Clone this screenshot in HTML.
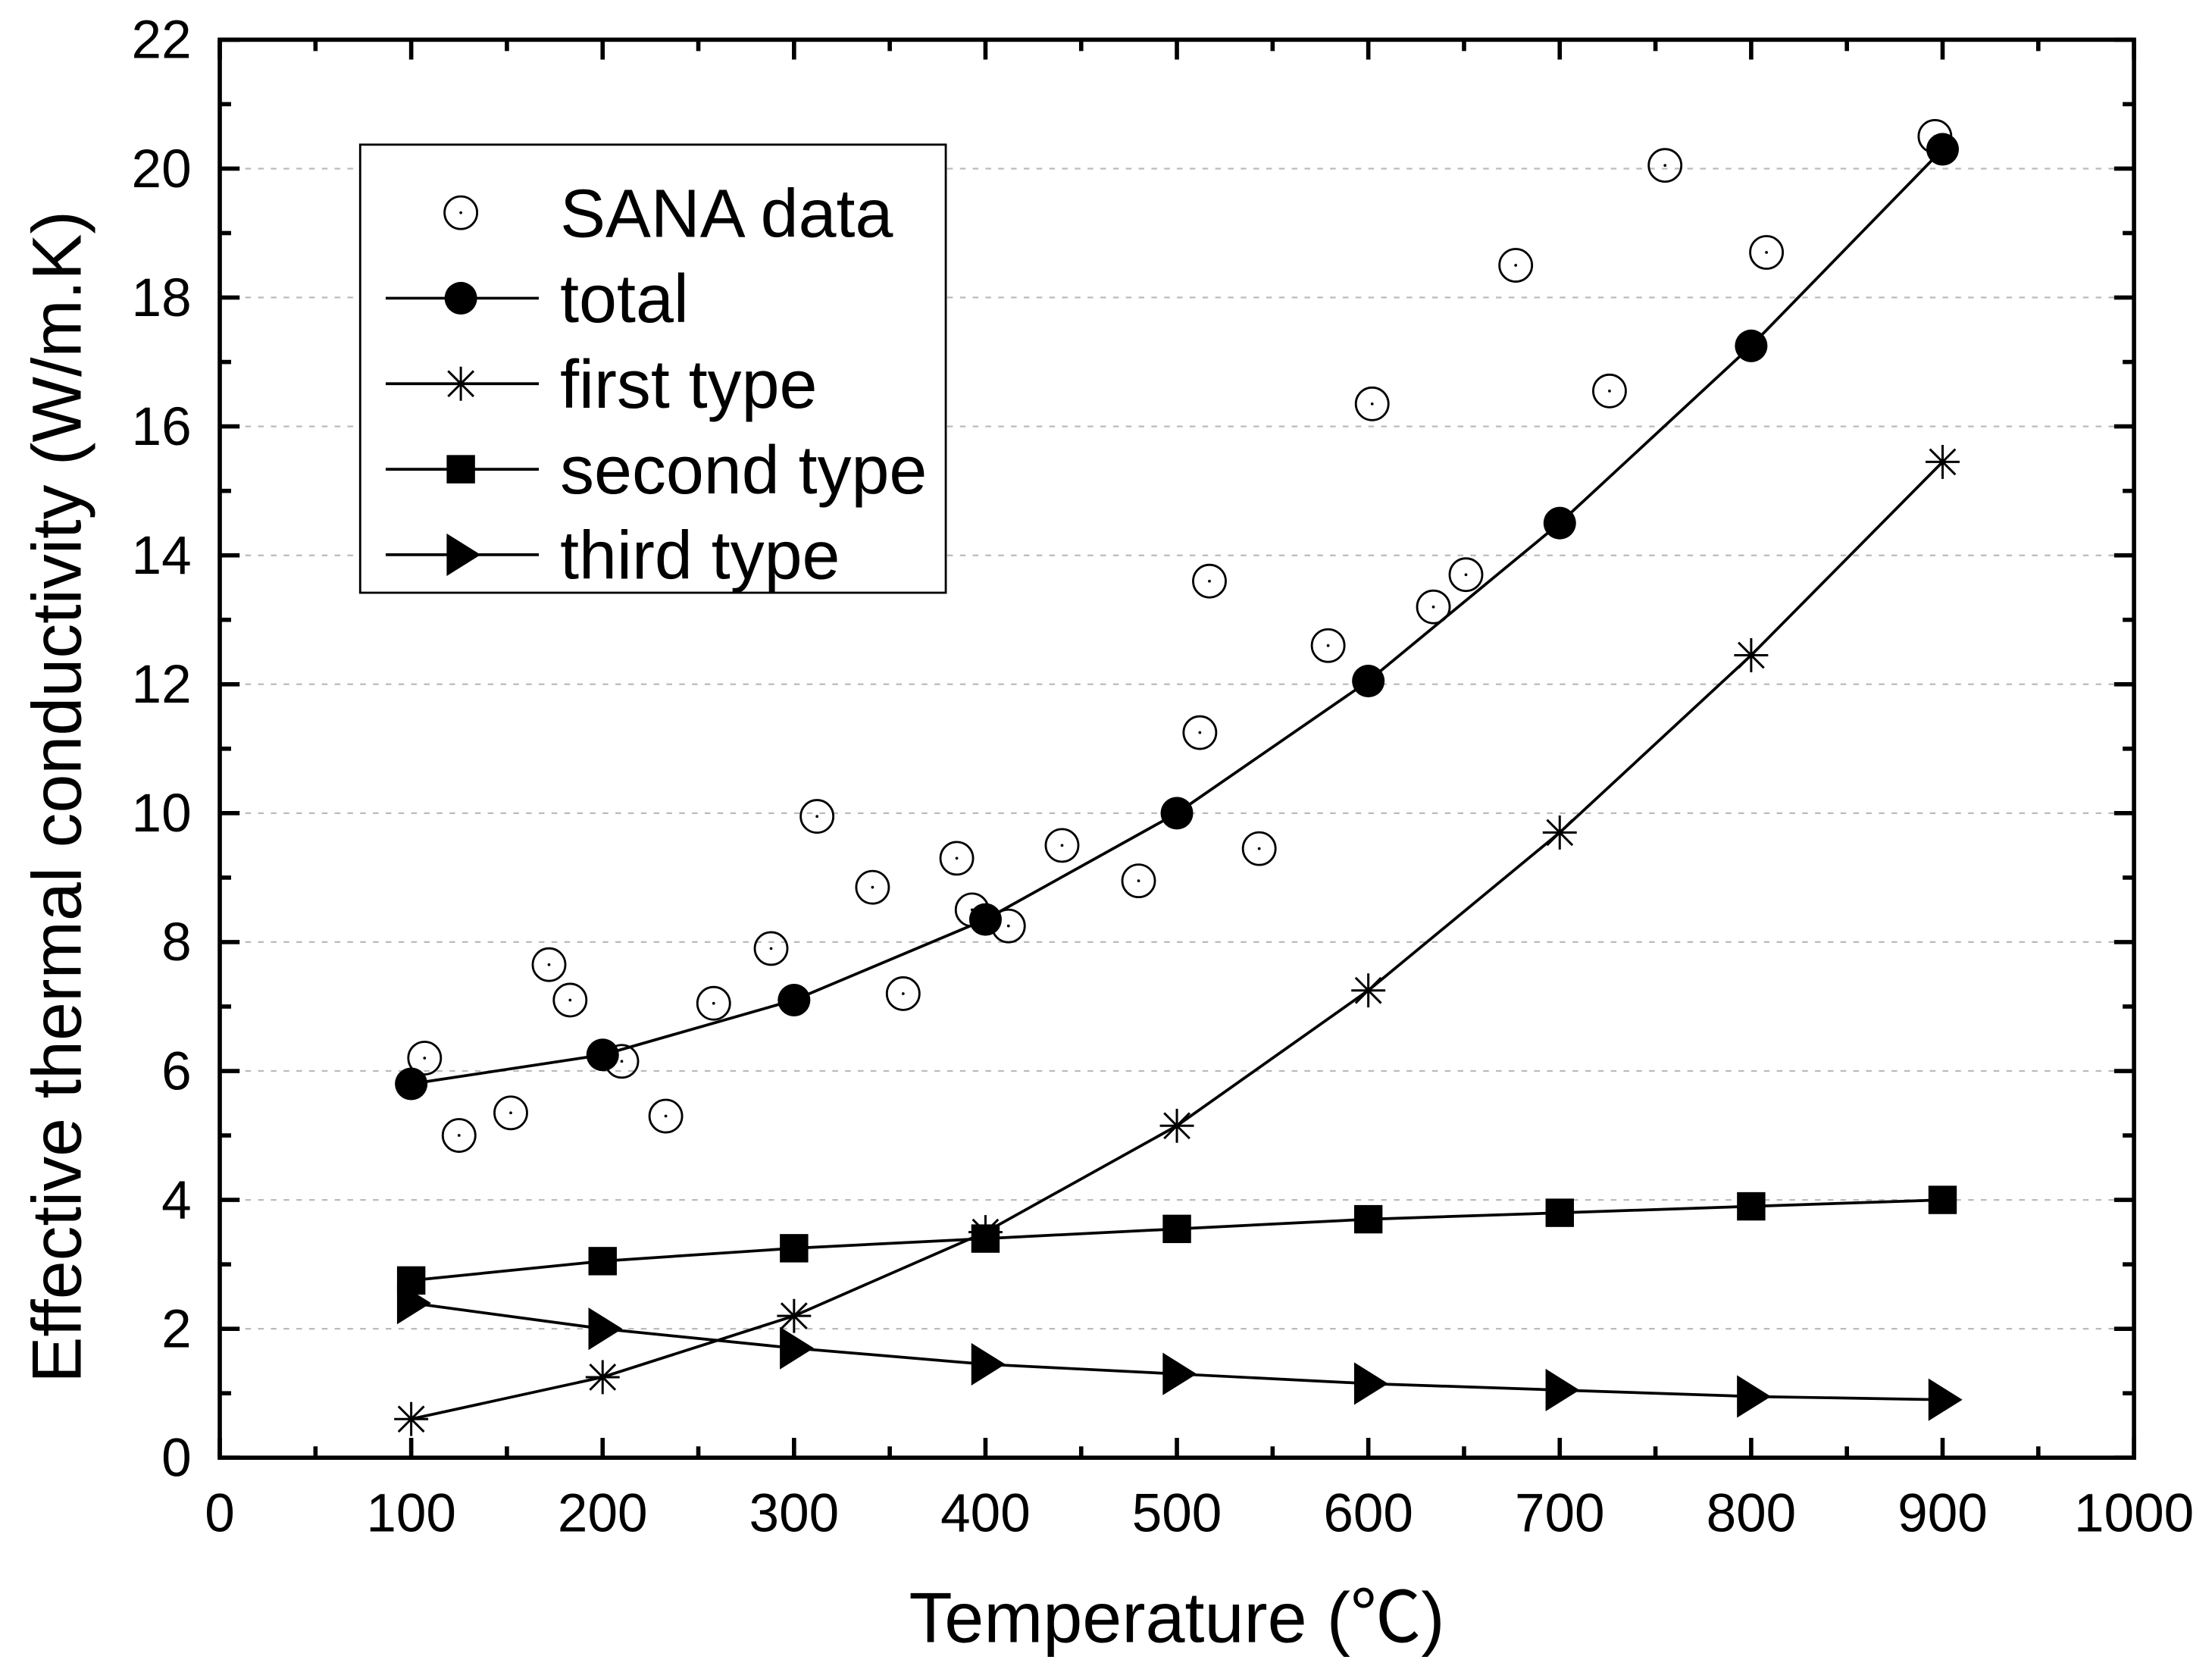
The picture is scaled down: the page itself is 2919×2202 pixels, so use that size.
<!DOCTYPE html>
<html><head><meta charset="utf-8"><style>
html,body{margin:0;padding:0;background:#fff;}
svg{display:block;}
text{font-family:"Liberation Sans","Noto Sans CJK SC",sans-serif;fill:#000;}
</style></head><body>
<svg id="chart" width="2919" height="2202" viewBox="0 0 1560 1177" preserveAspectRatio="none" xmlns="http://www.w3.org/2000/svg">
<g id="grid"></g>
<g id="axes"></g>
<g id="series"></g>
<g id="legend"></g>
</svg>
<script>
const temps = [100,200,300,400,500,600,700,800,900];
const totalVals = [5.8,6.25,7.1,8.35,10.0,12.05,14.5,17.25,20.3];
const firstVals = [0.6,1.25,2.2,3.5,5.15,7.25,9.7,12.45,15.45];
const secondVals = [2.75,3.05,3.25,3.4,3.55,3.7,3.8,3.9,4.0];
const thirdVals = [2.4,2.0,1.7,1.45,1.3,1.15,1.05,0.95,0.9];
const sanaX = [107,125,152,172,183,210,233,258,288,312,341,357,385,393,412,440,480,512,517,543,579,602,634,651,677,726,755,808,896];
const sanaY = [6.2,5.0,5.35,7.65,7.1,6.15,5.3,7.05,7.9,9.95,8.85,7.2,9.3,8.5,8.25,9.5,8.95,11.25,13.6,9.45,12.6,16.35,13.2,13.7,18.5,16.55,20.05,18.7,20.5];
const xTicks = [0,100,200,300,400,500,600,700,800,900,1000];
const yTicks = [0,2,4,6,8,10,12,14,16,18,20,22];

const L=155,R=1505,T=28,B=1028;
const sx=v=>L+(v-0)/(1000)*(R-L);
const sy=v=>B-(v/22)*(B-T);
const NS="http://www.w3.org/2000/svg";
function mk(tag,attrs,parent){const e=document.createElementNS(NS,tag);for(const k in attrs)e.setAttribute(k,attrs[k]);parent.appendChild(e);return e;}
const grid=document.getElementById('grid'),axes=document.getElementById('axes'),series=document.getElementById('series'),legend=document.getElementById('legend');

yTicks.forEach(v=>{if(v>0&&v<22){const g=mk('line',{x1:L,x2:R,y1:sy(v),y2:sy(v),stroke:'#bbb','stroke-width':1.2,'stroke-dasharray':'4,5'},grid);

}});

const frame=mk('rect',{x:L,y:T,width:R-L,height:B-T,fill:'none',stroke:'#000','stroke-width':3},axes);



xTicks.forEach(v=>{const x=sx(v);
mk('line',{x1:x,x2:x,y1:B,y2:B-14,stroke:'#000','stroke-width':3},axes);
mk('line',{x1:x,x2:x,y1:T,y2:T+14,stroke:'#000','stroke-width':3},axes);
if(v<1000){const m=sx(v+50);mk('line',{x1:m,x2:m,y1:B,y2:B-8,stroke:'#000','stroke-width':3},axes);mk('line',{x1:m,x2:m,y1:T,y2:T+8,stroke:'#000','stroke-width':3},axes);}
const t=mk('text',{x:x,y:B+52,'font-size':38,'text-anchor':'middle'},axes);t.textContent=v;

});

yTicks.forEach(v=>{const y=sy(v);
mk('line',{x1:L,x2:L+14,y1:y,y2:y,stroke:'#000','stroke-width':3},axes);
mk('line',{x1:R,x2:R-14,y1:y,y2:y,stroke:'#000','stroke-width':3},axes);
if(v<22){const m=sy(v+1);mk('line',{x1:L,x2:L+8,y1:m,y2:m,stroke:'#000','stroke-width':3},axes);mk('line',{x1:R,x2:R-8,y1:m,y2:m,stroke:'#000','stroke-width':3},axes);}
const t=mk('text',{x:L-20,y:y+13,'font-size':38,'text-anchor':'end'},axes);t.textContent=v;

});

const xt=mk('text',{x:830,y:1158,'font-size':50,'text-anchor':'middle'},axes);xt.textContent='Temperature (℃)';


const yt=mk('text',{x:0,y:0,'font-size':49,'text-anchor':'middle',transform:'translate(57,562) rotate(-90)'},axes);yt.textContent='Effective thermal conductivity (W/m.K)';



function marker(type,x,y,p){
 if(type==='open'){mk('circle',{cx:x,cy:y,r:11.5,fill:'none',stroke:'#000','stroke-width':1.5},p);mk('circle',{cx:x,cy:y,r:1,fill:'#000'},p);}
 else if(type==='dot'){mk('circle',{cx:x,cy:y,r:11.5,fill:'#000'},p);}
 else if(type==='square'){mk('rect',{x:x-10,y:y-10,width:20,height:20,fill:'#000'},p);}
 else if(type==='tri'){mk('polygon',{points:`${x-10},${y-15} ${x+14},${y} ${x-10},${y+15}`,fill:'#000'},p);}
 else if(type==='star'){const r=12,d=9;mk('path',{d:`M${x-r},${y}H${x+r}M${x},${y-r}V${y+r}M${x-d},${y-d}L${x+d},${y+d}M${x-d},${y+d}L${x+d},${y-d}`,stroke:'#000','stroke-width':1.6},p);}
}
function line(vals,type,name){
 const g=mk('g',{},series);
 
 
 const pts=temps.map((t,i)=>sx(t)+','+sy(vals[i])).join(' ');
 mk('polyline',{points:pts,fill:'none',stroke:'#000','stroke-width':2},g);
 temps.forEach((t,i)=>marker(type,sx(t),sy(vals[i]),g));
}
const sg=mk('g',{},series);


sanaX.forEach((t,i)=>marker('open',sx(t),sy(sanaY[i]),sg));
line(secondVals,'square','second-type-series');
line(thirdVals,'tri','third-type-series');
line(firstVals,'star','first-type-series');
line(totalVals,'dot','total-series');

const lb=mk('rect',{x:254,y:102,width:413,height:316,fill:'#fff',stroke:'#000','stroke-width':1.5},legend);


const items=[['SANA data','open',false],['total','dot',true],['first type','star',true],['second type','square',true],['third type','tri',true]];
items.forEach((it,i)=>{const y=150+i*60.3;
 const g=mk('g',{},legend);
 
 
 if(it[2])mk('line',{x1:272,x2:380,y1:y,y2:y,stroke:'#000','stroke-width':2},g);
 marker(it[1],325,y,g);
 const t=mk('text',{x:395,y:y+17,'font-size':48},g);t.textContent=it[0];
});
</script>
</body></html>
